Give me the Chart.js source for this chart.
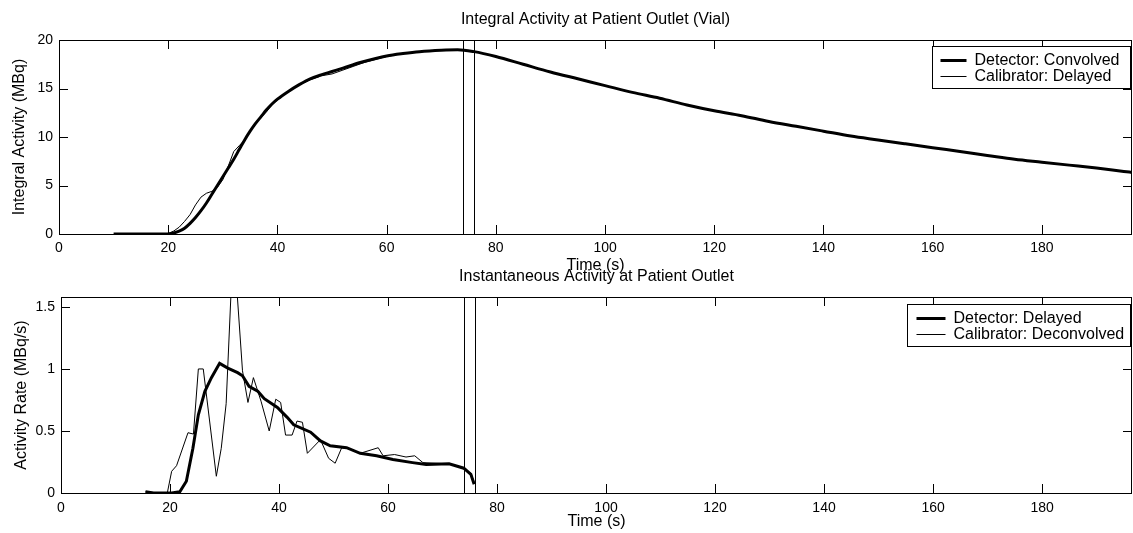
<!DOCTYPE html>
<html>
<head>
<meta charset="utf-8">
<title>Patient Outlet Activity</title>
<script src="https://cdn.jsdelivr.net/npm/chart.js@4.4.1/dist/chart.umd.min.js"></script>
<style>
  body { margin: 0; background: #fff; }
  .panel { position: absolute; left: 0; width: 1133px; }
  #topPanel { top: 0; height: 275px; }
  #bottomPanel { top: 262px; height: 271px; }
</style>
</head>
<body>
<div class="panel" id="topPanel"><canvas id="integral"></canvas></div>
<div class="panel" id="bottomPanel"><canvas id="rate"></canvas></div>
<script>
// x ticks shared by both panels
const xTicks = [0, 20, 40, 60, 80, 100, 120, 140, 160, 180];
const markers = [74, 76];

// top panel: integral activity (MBq)
const convT = [10, 15, 19, 20, 21, 22, 23, 24, 25, 26, 27, 28, 29, 30, 31, 32, 33, 34, 35, 36, 37, 38, 39, 40,
  42, 44, 46, 48, 50, 52, 55, 58, 60, 63, 66, 70, 73, 76, 80, 85, 90, 95, 100, 105, 110, 115, 120, 125,
  130, 135, 140, 145, 150, 155, 160, 165, 170, 175, 180, 185, 190, 195, 196.5];
const convV = [0, 0, 0, 0, 0.1, 0.3, 0.6, 1.1, 1.7, 2.4, 3.2, 4.1, 5.0, 5.9, 6.8, 7.7, 8.7, 9.7, 10.6, 11.4, 12.1, 12.8, 13.4, 13.9,
  14.7, 15.4, 16.0, 16.4, 16.75, 17.1, 17.65, 18.1, 18.35, 18.6, 18.8, 18.95, 19.0, 18.8, 18.3, 17.5, 16.7, 16.0, 15.3, 14.6, 14.0, 13.3, 12.7, 12.2,
  11.6, 11.1, 10.6, 10.1, 9.7, 9.3, 8.9, 8.5, 8.1, 7.7, 7.4, 7.1, 6.8, 6.45, 6.35];

const delayT = [15, 19, 20, 21, 22, 23, 24, 25, 26, 27, 28, 29, 30, 31, 32, 33, 34, 35, 36, 37, 38, 39, 40,
  42, 44, 46, 48, 50, 52, 54, 56, 58, 60, 63, 66, 70, 73, 76];
const delayV = [0, 0, 0.05, 0.3, 0.7, 1.3, 2.0, 3.0, 3.8, 4.2, 4.4, 4.8, 5.6, 7.0, 8.5, 9.1, 9.7, 10.6, 11.5, 12.0, 12.6, 13.3, 13.8,
  14.7, 15.4, 15.9, 16.3, 16.5, 16.9, 17.3, 17.7, 18.0, 18.3, 18.6, 18.8, 18.95, 19.0, 18.8];

// bottom panel: activity rate (MBq/s)
const detT = [15.5, 17, 19, 20.3, 21.8, 23.0, 24.2, 25.2, 26.4, 27.6, 29.1, 30.6, 32.4, 33.3, 34.5, 36.1, 37.3, 39.7,
  41.5, 42.7, 45.8, 47.6, 49.4, 52.4, 54.9, 57.9, 60.9, 64.5, 67, 71.2, 73.9, 75.2, 75.8];
const detV = [0.01, 0, 0, 0, 0.01, 0.095, 0.36, 0.63, 0.82, 0.93, 1.045, 1.007, 0.97, 0.945, 0.86, 0.82, 0.76, 0.69,
  0.61, 0.55, 0.49, 0.42, 0.38, 0.365, 0.32, 0.30, 0.27, 0.245, 0.23, 0.235, 0.2, 0.15, 0.07];

const deconvT = [15.5, 17, 19.5, 20.3, 21.2, 23.3, 24.3, 25.2, 26.1, 28.5, 29.4, 30.3, 31.2, 32.3, 33.3, 34.3, 35.3, 36.7,
  38.2, 39.4, 40.3, 41.2, 42.4, 43.3, 44.3, 45.2, 47.6, 49.1, 50.3, 51.5, 53, 54.9, 58.2, 59.1, 61.2, 63.3, 64.9, 66.4,
  71.2, 73.3, 75.2, 75.8];
const deconvV = [0.01, 0, 0, 0.175, 0.22, 0.486, 0.475, 1.0, 1.0, 0.135, 0.36, 0.72, 1.62, 1.62, 0.985, 0.73, 0.93, 0.74,
  0.5, 0.756, 0.73, 0.467, 0.467, 0.58, 0.57, 0.32, 0.43, 0.28, 0.24, 0.365, 0.355, 0.32, 0.365, 0.30, 0.31, 0.29, 0.30, 0.245,
  0.235, 0.21, 0.16, 0.09];

const FONT = 'Liberation Sans, Arial, Helvetica, sans-serif';

function pts(t, v) {
  return t.map((x, i) => ({x: x, y: v[i]}));
}

// box, inward ticks, marker lines and legend inside the plot
const framePlugin = {
  id: 'frame',
  afterDatasetsDraw(chart, args, opts) {
    const ctx = chart.ctx;
    const a = chart.chartArea;
    const x = chart.scales.x, y = chart.scales.y;
    ctx.save();
    ctx.strokeStyle = '#000';
    ctx.lineWidth = 1;
    ctx.beginPath();
    x.ticks.forEach(t => {
      const px = Math.round(x.getPixelForValue(t.value)) + 0.5;
      ctx.moveTo(px, a.bottom); ctx.lineTo(px, a.bottom - 9);
      ctx.moveTo(px, a.top); ctx.lineTo(px, a.top + 9);
    });
    y.ticks.forEach(t => {
      const py = Math.round(y.getPixelForValue(t.value)) + 0.5;
      ctx.moveTo(a.left, py); ctx.lineTo(a.left + 9, py);
      ctx.moveTo(a.right, py); ctx.lineTo(a.right - 9, py);
    });
    markers.forEach(m => {
      const px = Math.round(x.getPixelForValue(m)) + 0.5;
      ctx.moveTo(px, a.top); ctx.lineTo(px, a.bottom);
    });
    ctx.stroke();
    ctx.strokeRect(Math.round(a.left) + 0.5, Math.round(a.top) + 0.5, Math.round(a.width) - 1, Math.round(a.height));

    // legend
    const bx = Math.round(a.right - opts.right - opts.width) + 0.5;
    const by = Math.round(a.top + opts.top) + 0.5;
    ctx.fillStyle = '#fff';
    ctx.fillRect(bx, by, opts.width, opts.height);
    ctx.strokeRect(bx, by, opts.width, opts.height);
    ctx.font = '16px ' + FONT;
    ctx.textBaseline = 'middle';
    chart.data.datasets.forEach((ds, i) => {
      const ry = by + opts.rowTop + i * opts.rowGap;
      ctx.lineWidth = ds.borderWidth;
      ctx.beginPath();
      ctx.moveTo(bx + opts.lineX, ry);
      ctx.lineTo(bx + opts.lineX + opts.lineLen, ry);
      ctx.stroke();
      ctx.fillStyle = '#000';
      ctx.fillText(ds.label, bx + opts.textX, ry);
    });
    ctx.restore();
  }
};

function makeOptions(cfg) {
  return {
    responsive: true,
    maintainAspectRatio: false,
    animation: false,
    layout: { padding: { left: 0, right: 1, top: 0, bottom: cfg.bottomPad } },
    plugins: {
      legend: { display: false },
      tooltip: { enabled: false },
      title: {
        display: true,
        fullSize: false,
        text: cfg.title,
        color: '#000',
        font: { family: FONT, size: 16, weight: 'normal' },
        padding: cfg.titlePad
      },
      frame: cfg.legend
    },
    scales: {
      x: {
        type: 'linear',
        min: 0,
        max: 196.5,
        grid: { display: false, drawTicks: false },
        border: { display: false },
        afterBuildTicks: s => { s.ticks = xTicks.map(v => ({ value: v })); },
        ticks: { color: '#000', padding: cfg.xtickPad, font: { family: FONT, size: 14, lineHeight: 1 } },
        title: { display: true, text: 'Time (s)', color: '#000', padding: { top: cfg.xtitlePad, bottom: 0 },
          font: { family: FONT, size: 16, lineHeight: 1 } }
      },
      y: {
        min: 0,
        max: cfg.ymax,
        grid: { display: false, drawTicks: false },
        border: { display: false },
        afterBuildTicks: s => { s.ticks = cfg.yTicks.map(v => ({ value: v })); },
        afterFit: s => { s.width = cfg.yWidth; },
        ticks: { color: '#000', padding: 6, font: { family: FONT, size: 14 },
          callback: v => String(v) },
        title: { display: true, text: cfg.ytitle, color: '#000', padding: { top: cfg.ytitlePad, bottom: 0 },
          font: { family: FONT, size: 16 } }
      }
    }
  };
}

new Chart(document.getElementById('integral'), {
  type: 'line',
  data: {
    datasets: [
      { label: 'Detector: Convolved', data: pts(convT, convV), borderColor: '#000', borderWidth: 3,
        pointRadius: 0, fill: false, cubicInterpolationMode: 'monotone' },
      { label: 'Calibrator: Delayed', data: pts(delayT, delayV), borderColor: '#000', borderWidth: 1,
        pointRadius: 0, fill: false }
    ]
  },
  options: makeOptions({
    title: 'Integral Activity at Patient Outlet (Vial)',
    titlePad: { top: 10.4, bottom: 10.4 },
    bottomPad: 1,
    xtickPad: 7,
    xtitlePad: -4,
    ymax: 20,
    yTicks: [0, 5, 10, 15, 20],
    yWidth: 59,
    ytitle: 'Integral Activity (MBq)',
    ytitlePad: 10.4,
    legend: { right: 2, top: 6, width: 198, height: 42, rowTop: 14, rowGap: 16, lineX: 8, lineLen: 26, textX: 42 }
  }),
  plugins: [framePlugin]
});

new Chart(document.getElementById('rate'), {
  type: 'line',
  data: {
    datasets: [
      { label: 'Detector: Delayed', data: pts(detT, detV), borderColor: '#000', borderWidth: 3,
        pointRadius: 0, fill: false },
      { label: 'Calibrator: Deconvolved', data: pts(deconvT, deconvV), borderColor: '#000', borderWidth: 1,
        pointRadius: 0, fill: false }
    ]
  },
  options: makeOptions({
    title: 'Instantaneous Activity at Patient Outlet',
    titlePad: { top: 5.4, bottom: 10.4 },
    bottomPad: 3,
    xtickPad: 8,
    xtitlePad: -9,
    ymax: 1.58,
    yTicks: [0, 0.5, 1, 1.5],
    yWidth: 61,
    ytitle: 'Activity Rate (MBq/s)',
    ytitlePad: 12.4,
    legend: { right: 2, top: 7, width: 223, height: 42, rowTop: 14, rowGap: 16, lineX: 9, lineLen: 29, textX: 46 }
  }),
  plugins: [framePlugin]
});
</script>
</body>
</html>
